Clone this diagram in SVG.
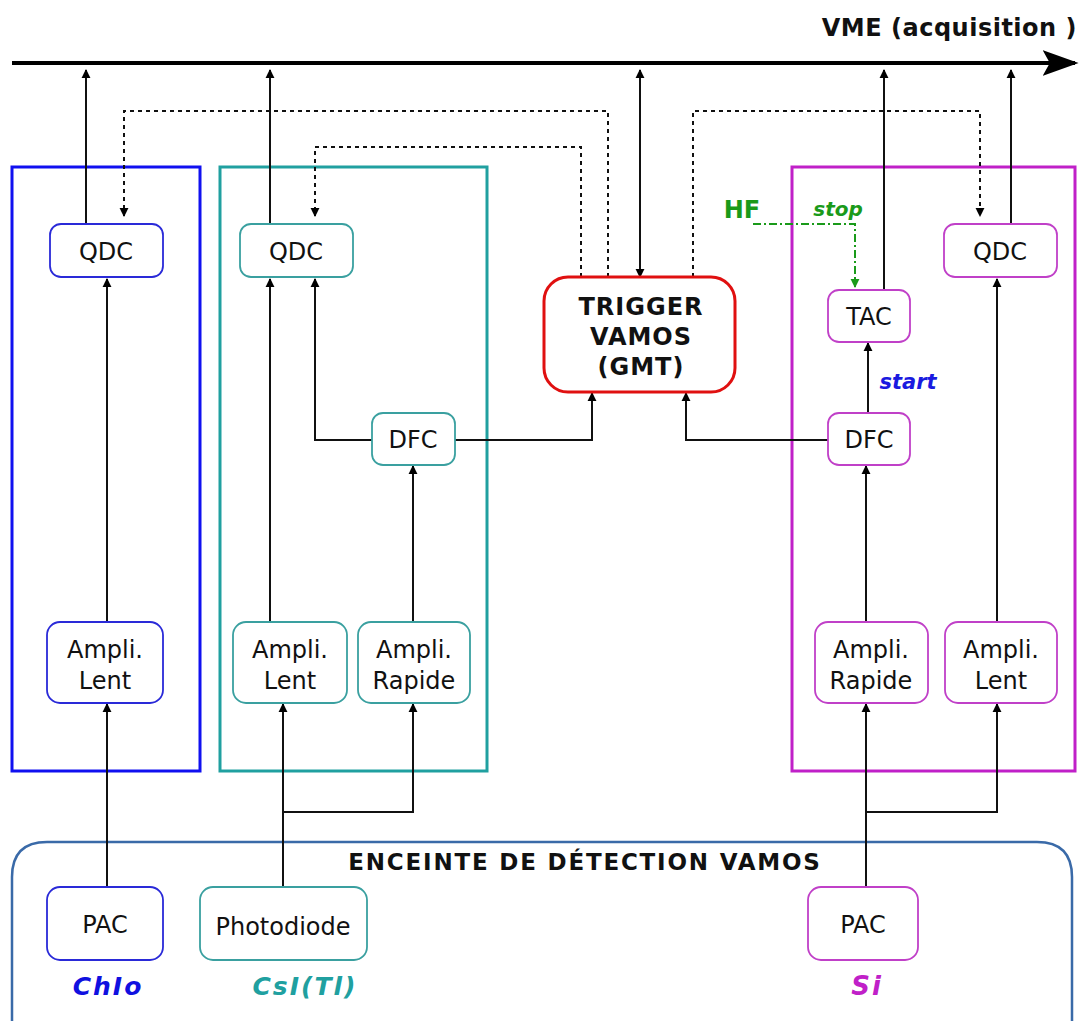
<svg xmlns="http://www.w3.org/2000/svg" width="1082" height="1021" viewBox="0 0 1082 1021">
<defs>
<marker id="ah" viewBox="0 0 10 10" refX="9" refY="5" markerWidth="9" markerHeight="10" markerUnits="userSpaceOnUse" orient="auto-start-reverse"><path d="M0,0 L10,5 L0,10 z" fill="#000"/></marker>
<marker id="ahg" viewBox="0 0 10 10" refX="9" refY="5" markerWidth="9" markerHeight="10" markerUnits="userSpaceOnUse" orient="auto"><path d="M0,0 L10,5 L0,10 z" fill="#1a9a1a"/></marker>
<marker id="big" viewBox="0 0 10 10" refX="9" refY="5" markerWidth="36" markerHeight="26" markerUnits="userSpaceOnUse" orient="auto" preserveAspectRatio="none"><path d="M0,0 L10,5 L0,10 L2,5 z" fill="#000"/></marker>
</defs>
<style>
.t{font-family:"DejaVu Sans",Verdana,sans-serif;font-size:24px;text-anchor:middle;fill:#111}
.b{font-family:"DejaVu Sans",Verdana,sans-serif;font-weight:bold;font-size:24px;text-anchor:middle;fill:#111}
.bi{font-family:"DejaVu Sans",Verdana,sans-serif;font-weight:bold;font-style:italic;text-anchor:middle}
.nb{fill:#fff;stroke:#2a2ad8;stroke-width:1.8}
.nt{fill:#fff;stroke:#3aa0a0;stroke-width:1.8}
.nm{fill:#fff;stroke:#c040c8;stroke-width:1.8}
.c{fill:none;stroke:#111;stroke-width:2}
.d{fill:none;stroke:#111;stroke-width:2;stroke-dasharray:4,4}
</style>
<rect width="1082" height="1021" fill="#fff"/>
<g id="groups">
<rect x="12" y="167" width="188" height="604" fill="none" stroke="#1010f0" stroke-width="3"/>
<rect x="220" y="167" width="267" height="604" fill="none" stroke="#20a0a0" stroke-width="3"/>
<rect x="792" y="167" width="283" height="604" fill="none" stroke="#c020c8" stroke-width="3"/>
<path d="M12,1021 L12,877 Q12,842 47,842 L1037,842 Q1072,842 1072,877 L1072,1021" fill="none" stroke="#3a6aa8" stroke-width="2.5"/>
<text class="b" x="585" y="870" letter-spacing="1.8" style="font-size:23px">ENCEINTE DE DÉTECTION VAMOS</text>
</g>
<g id="vme">
<line x1="12" y1="63" x2="1075" y2="63" stroke="#000" stroke-width="4" marker-end="url(#big)"/>
<text class="b" x="1077" y="36" letter-spacing="0.5" style="text-anchor:end;font-size:24px">VME (acquisition )</text>
</g>
<g id="connectors">
<path class="c" d="M86,224 V70" marker-end="url(#ah)"/>
<path class="c" d="M270,224 V70" marker-end="url(#ah)"/>
<path class="c" d="M640,277 V70" marker-start="url(#ah)" marker-end="url(#ah)"/>
<path class="c" d="M884,290 V70" marker-end="url(#ah)"/>
<path class="c" d="M1011,224 V70" marker-end="url(#ah)"/>
<path class="d" d="M608,277 V111 H124 V216" marker-end="url(#ah)"/>
<path class="d" d="M581,277 V147 H315 V216" marker-end="url(#ah)"/>
<path class="d" d="M693,277 V111 H980 V216" marker-end="url(#ah)"/>
<path d="M753,224 H855 V287" fill="none" stroke="#1a9a1a" stroke-width="2" stroke-dasharray="8,3,2,3" marker-end="url(#ahg)"/>
<path class="c" d="M107,622 V279" marker-end="url(#ah)"/>
<path class="c" d="M107,887 V704" marker-end="url(#ah)"/>
<path class="c" d="M270,622 V279" marker-end="url(#ah)"/>
<path class="c" d="M372,440 H315 V279" marker-end="url(#ah)"/>
<path class="c" d="M455,440 H592 V393" marker-end="url(#ah)"/>
<path class="c" d="M413,622 V466" marker-end="url(#ah)"/>
<path class="c" d="M283,887 V704" marker-end="url(#ah)"/>
<path class="c" d="M283,812 H413 V704" marker-end="url(#ah)"/>
<path class="c" d="M828,440 H686 V393" marker-end="url(#ah)"/>
<path class="c" d="M868,413 V343" marker-end="url(#ah)"/>
<path class="c" d="M866,622 V466" marker-end="url(#ah)"/>
<path class="c" d="M997,622 V279" marker-end="url(#ah)"/>
<path class="c" d="M866,887 V704" marker-end="url(#ah)"/>
<path class="c" d="M866,812 H997 V704" marker-end="url(#ah)"/>
</g>
<g id="qdc1"><rect class="nb" x="50" y="224" width="113" height="53" rx="11"/><text class="t" x="106" y="260">QDC</text></g>
<g id="qdc2"><rect class="nt" x="240" y="224" width="113" height="53" rx="11"/><text class="t" x="296" y="260">QDC</text></g>
<g id="qdc3"><rect class="nm" x="944" y="224" width="113" height="53" rx="11"/><text class="t" x="1000" y="260">QDC</text></g>
<g id="trigger"><rect x="544" y="277" width="191" height="115" rx="24" fill="#fff" stroke="#e01010" stroke-width="3"/>
<text class="b" x="641" y="315" letter-spacing="1">TRIGGER</text><text class="b" x="641" y="345" letter-spacing="1">VAMOS</text><text class="b" x="641" y="375" letter-spacing="1">(GMT)</text></g>
<g id="tac"><rect class="nm" x="828" y="290" width="82" height="52" rx="11"/><text class="t" x="869" y="325">TAC</text></g>
<g id="dfc1"><rect class="nt" x="372" y="413" width="83" height="52" rx="11"/><text class="t" x="413" y="448">DFC</text></g>
<g id="dfc2"><rect class="nm" x="828" y="413" width="82" height="52" rx="11"/><text class="t" x="869" y="448">DFC</text></g>
<g id="amp1"><rect class="nb" x="47" y="622" width="116" height="81" rx="13"/><text class="t" x="105" y="658">Ampli.</text><text class="t" x="105" y="689">Lent</text></g>
<g id="amp2"><rect class="nt" x="233" y="622" width="114" height="81" rx="13"/><text class="t" x="290" y="658">Ampli.</text><text class="t" x="290" y="689">Lent</text></g>
<g id="amp3"><rect class="nt" x="358" y="622" width="112" height="81" rx="13"/><text class="t" x="414" y="658">Ampli.</text><text class="t" x="414" y="689">Rapide</text></g>
<g id="amp4"><rect class="nm" x="815" y="622" width="113" height="81" rx="13"/><text class="t" x="871" y="658">Ampli.</text><text class="t" x="871" y="689">Rapide</text></g>
<g id="amp5"><rect class="nm" x="945" y="622" width="112" height="81" rx="13"/><text class="t" x="1001" y="658">Ampli.</text><text class="t" x="1001" y="689">Lent</text></g>
<g id="pac1"><rect class="nb" x="47" y="887" width="116" height="73" rx="13"/><text class="t" x="105" y="933">PAC</text></g>
<g id="photo"><rect class="nt" x="200" y="887" width="167" height="73" rx="13"/><text class="t" x="283" y="935">Photodiode</text></g>
<g id="pac2"><rect class="nm" x="808" y="887" width="110" height="73" rx="13"/><text class="t" x="863" y="933">PAC</text></g>
<g id="labels">
<text class="bi" x="108" y="995" font-size="25" letter-spacing="2" fill="#1010e0">ChIo</text>
<text class="bi" x="305" y="995" font-size="25" letter-spacing="2" fill="#20a0a0">CsI(Tl)</text>
<text class="bi" x="867" y="995" font-size="26" letter-spacing="2" fill="#c020c8">Si</text>
<text class="b" x="742" y="218" fill="#1a9a1a" style="fill:#1a9a1a;font-size:24px">HF</text>
<text class="bi" x="838" y="216" font-size="20" fill="#1a9a1a">stop</text>
<text class="bi" x="908" y="389" font-size="21" fill="#1a1ae0">start</text>
</g>
</svg>
